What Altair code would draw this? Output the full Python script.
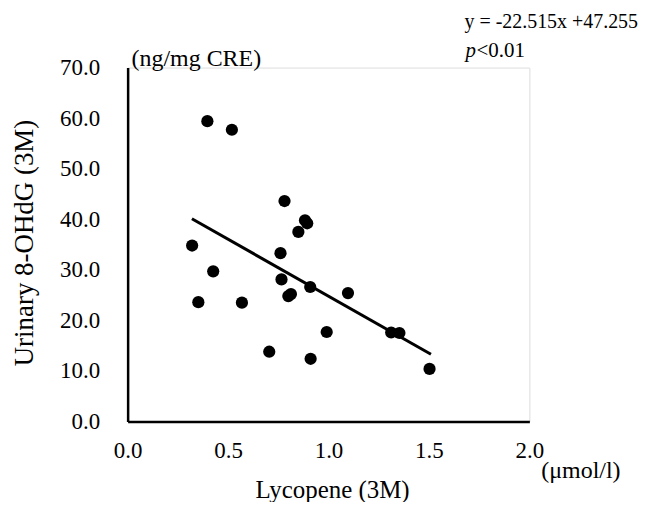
import altair as alt
import pandas as pd

# Scatter points: lycopene (µmol/l) vs urinary 8-OHdG (ng/mg CRE)
lycopene = [0.397, 0.519, 0.781, 0.883, 0.894, 0.850, 0.321, 0.761, 0.426, 0.766, 0.909,
            1.097, 0.800, 0.813, 0.352, 0.569, 0.991, 1.312, 1.353, 0.705, 0.911, 1.503]
ohdg = [59.4, 57.7, 43.6, 39.8, 39.2, 37.5, 34.8, 33.3, 29.7, 28.1, 26.6,
        25.4, 24.8, 25.2, 23.6, 23.5, 17.7, 17.6, 17.5, 13.8, 12.4, 10.4]

# Regression line endpoints (y = -22.515x + 47.255)
line_x = [0.32, 1.51]
line_y = [40.1, 13.3]

x_ticks = [0.0, 0.5, 1.0, 1.5, 2.0]
y_ticks = [0, 10, 20, 30, 40, 50, 60, 70]

FONT = "Liberation Serif"
W, H = 403, 355

pts = pd.DataFrame({"x": lycopene, "y": ohdg})
ln = pd.DataFrame({"x": line_x, "y": line_y})

xscale = alt.Scale(domain=[0, 2], nice=False, zero=True)
yscale = alt.Scale(domain=[0, 70], nice=False, zero=True)

xaxis = alt.Axis(values=x_ticks, format=".1f", grid=False, ticks=False,
                 domainColor="black", domainWidth=2.5, labelFont=FONT, labelFontSize=23,
                 labelColor="black", labelPadding=18, labelFlush=False,
                 title="Lycopene (3M)", titleFont=FONT, titleFontSize=25,
                 titleFontWeight="normal", titleColor="black",
                 titleX=205, titleY=68, titleBaseline="middle", titleAlign="center")
yaxis = alt.Axis(values=y_ticks, format=".1f", grid=False, ticks=False,
                 domainColor="black", domainWidth=2.5, labelFont=FONT, labelFontSize=23,
                 labelColor="black", labelPadding=28, labelFlush=False,
                 title="Urinary 8-OHdG (3M)", titleFont=FONT, titleFontSize=27,
                 titleFontWeight="normal", titleColor="black",
                 titleX=-103, titleY=H / 2 - 2, titleAngle=-90,
                 titleBaseline="middle", titleAlign="center")

points = alt.Chart(pts).mark_circle(size=150, color="black", opacity=1).encode(
    x=alt.X("x:Q", scale=xscale, axis=xaxis),
    y=alt.Y("y:Q", scale=yscale, axis=yaxis),
)

trend = alt.Chart(ln).mark_line(color="black", strokeWidth=3).encode(
    x=alt.X("x:Q", scale=xscale),
    y=alt.Y("y:Q", scale=yscale),
)

def label(text, x, y, size, style="normal", align="left"):
    return alt.Chart(pd.DataFrame({"t": [text]})).mark_text(
        font=FONT, fontSize=size, fontStyle=style, color="black",
        align=align, baseline="middle"
    ).encode(text="t:N", x=alt.value(x), y=alt.value(y))

eq = label("y = -22.515x +47.255", 512, -46, 20, align="right")
p1 = label("p", 339, -17, 21, "italic")
p2 = label("<0.01", 350, -17, 21)
unit_y = label("(ng/mg CRE)", 4, -9, 24)
unit_x = label("(\u03bcmol/l)", 415, 405, 24)

chart = alt.layer(points, trend, eq, p1, p2, unit_y, unit_x).properties(
    width=W, height=H,
    autosize=alt.AutoSizeParams(type="none"),
    padding={"left": 120, "top": 59, "right": 120, "bottom": 80},
).configure_view(stroke=None).configure(background="white")

chart.save("out.html", embed_options={"renderer": "svg", "actions": False})
